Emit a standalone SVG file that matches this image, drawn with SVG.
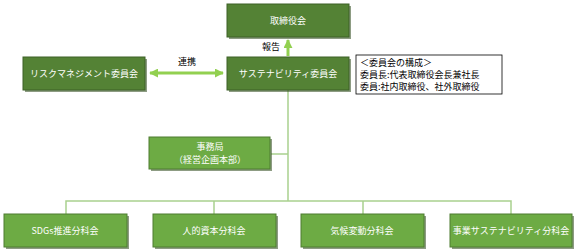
<svg xmlns="http://www.w3.org/2000/svg" width="576" height="251" viewBox="0 0 576 251">
<defs>
<style>
.dk{fill:#548235;stroke:#3d6127;stroke-width:1}
.lt{fill:#6dab44;stroke:#4e7c31;stroke-width:1}
.sh{fill:#2f4a1e;opacity:0.55}
.hl{fill:none;stroke:#b7d99f;stroke-width:1}
.lbl{font-family:"Noto Sans CJK JP","Noto Sans",sans-serif;font-size:9px;fill:#ffffff;text-anchor:middle}
.txt{font-family:"Noto Sans CJK JP","Noto Sans",sans-serif;font-size:9px;fill:#000000}
.conn{fill:none;stroke:#a9d18e;stroke-width:1.5}
.arr{fill:none;stroke:#92d050;stroke-width:3}
</style>
<marker id="ah" viewBox="0 0 10 10" refX="9" refY="5" markerWidth="3" markerHeight="3" orient="auto-start-reverse">
<path d="M0,0 L10,5 L0,10 Z" fill="#92d050"/>
</marker>
</defs>
<rect width="576" height="251" fill="#ffffff"/>
<g id="connectors">
<polyline class="conn" points="288,90 288,201"/>
<polyline class="conn" points="271,154 288,154"/>
<polyline class="conn" points="66,214 66,201 511,201 511,214"/>
<polyline class="conn" points="214,201 214,214"/>
<polyline class="conn" points="363,201 363,214"/>
<line class="arr" x1="150" y1="73" x2="223" y2="73" marker-start="url(#ah)" marker-end="url(#ah)"/>
<line class="arr" x1="288" y1="56" x2="288" y2="40" marker-end="url(#ah)"/>
<text class="txt" x="187" y="65" text-anchor="middle">連携</text>
<text class="txt" x="271" y="50" text-anchor="middle">報告</text>
</g>
<g id="board">
<rect class="sh" x="229" y="6" width="122" height="33"/>
<rect class="dk" x="227" y="4" width="122" height="33"/>
<text class="lbl" x="288" y="24">取締役会</text>
</g>
<g id="sustainability">
<rect class="sh" x="229" y="59" width="122" height="33"/>
<rect class="dk" x="227" y="57" width="122" height="33"/>
<text class="lbl" x="288" y="77">サステナビリティ委員会</text>
</g>
<g id="risk">
<rect class="sh" x="25" y="59" width="122" height="33"/>
<rect class="dk" x="23" y="57" width="122" height="33"/>
<text class="lbl" x="84" y="77">リスクマネジメント委員会</text>
</g>
<g id="composition">
<rect x="356" y="55" width="146" height="39" fill="#ffffff" stroke="#000000" stroke-width="0.8"/>
<text class="txt" x="360" y="66">＜委員会の構成＞</text>
<text class="txt" x="360" y="78">委員長:代表取締役会長兼社長</text>
<text class="txt" x="360" y="90">委員:社内取締役、社外取締役</text>
</g>
<g id="secretariat">
<rect class="sh" x="151" y="139" width="121" height="32"/>
<rect class="lt" x="149" y="137" width="121" height="32"/>
<text class="lbl" x="210" y="150">事務局</text>
<text class="lbl" x="210" y="163">（経営企画本部）</text>
</g>
<g id="sdgs">
<rect class="sh" x="6" y="216" width="123" height="33"/>
<rect class="lt" x="4" y="214" width="123" height="33"/>
<text class="lbl" x="65" y="234">SDGs推進分科会</text>
</g>
<g id="human">
<rect class="sh" x="155" y="216" width="123" height="33"/>
<rect class="lt" x="153" y="214" width="123" height="33"/>
<text class="lbl" x="214" y="234">人的資本分科会</text>
</g>
<g id="climate">
<rect class="sh" x="303" y="216" width="123" height="33"/>
<rect class="lt" x="301" y="214" width="123" height="33"/>
<text class="lbl" x="362" y="234">気候変動分科会</text>
</g>
<g id="business">
<rect class="sh" x="452" y="216" width="122" height="33"/>
<rect class="lt" x="450" y="214" width="122" height="33"/>
<text class="lbl" x="511" y="234">事業サステナビリティ分科会</text>
</g>
</svg>
